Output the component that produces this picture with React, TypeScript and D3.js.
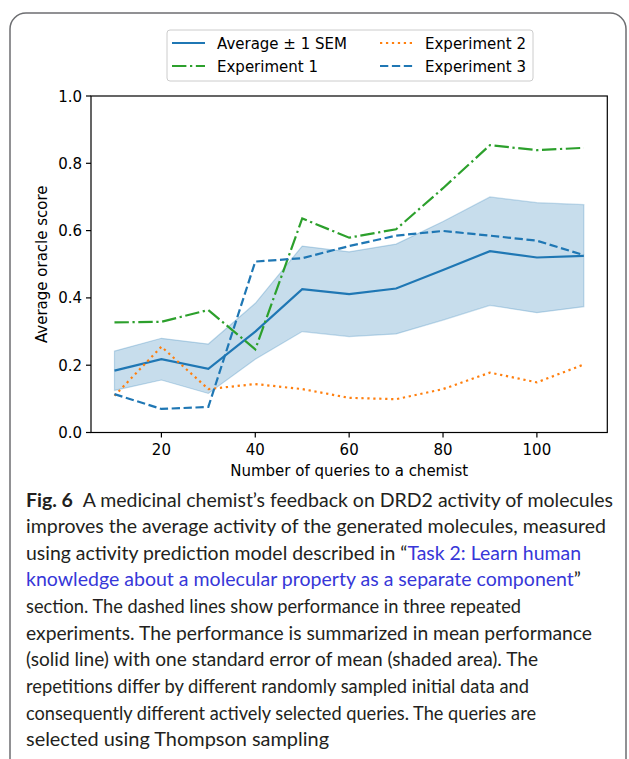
import React from "react";
import * as d3 from "d3";

const queries = [10, 20, 30, 40, 50, 60, 70, 80, 90, 100, 110];
const average = [0.184, 0.218, 0.189, 0.3, 0.426, 0.411, 0.428, 0.483, 0.539, 0.52, 0.525];
const semUpper = [0.242, 0.28, 0.263, 0.384, 0.554, 0.537, 0.56, 0.627, 0.7, 0.683, 0.677];
const semLower = [0.125, 0.156, 0.116, 0.218, 0.3, 0.285, 0.293, 0.334, 0.378, 0.356, 0.374];
const experiment1 = [0.327, 0.329, 0.364, 0.247, 0.636, 0.579, 0.604, 0.726, 0.854, 0.839, 0.846];
const experiment2 = [0.109, 0.255, 0.129, 0.144, 0.129, 0.103, 0.099, 0.129, 0.178, 0.149, 0.202];
const experiment3 = [0.114, 0.07, 0.076, 0.508, 0.518, 0.554, 0.585, 0.599, 0.585, 0.57, 0.527];
const xTicks = [20, 40, 60, 80, 100];
const yTicks = [0, 0.2, 0.4, 0.6, 0.8, 1.0];
const xLabel = "Number of queries to a chemist";
const yLabel = "Average oracle score";

const BLUE = "#1f77b4";
const ORANGE = "#ff7f0e";
const GREEN = "#2ca02c";

const legendItems = [
  { label: "Average \u00b1 1 SEM", color: BLUE, dash: "none", col: 0, row: 0 },
  { label: "Experiment 1", color: GREEN, dash: "14.4 3.6 2.25 3.6", col: 0, row: 1 },
  { label: "Experiment 2", color: ORANGE, dash: "2.25 3.7", col: 1, row: 0 },
  { label: "Experiment 3", color: BLUE, dash: "8.3 3.6", col: 1, row: 1 },
];

const LINK = "#3737d8";
const captionLines: { parts: { t: string; bold?: boolean; link?: boolean }[]; w: number }[] = [
  { parts: [{ t: "Fig. 6", bold: true }, { t: "\u2002A medicinal chemist\u2019s feedback on DRD2 activity of molecules" }], w: 587 },
  { parts: [{ t: "improves the average activity of the generated molecules, measured" }], w: 580 },
  { parts: [{ t: "using activity prediction model described in \u201c" }, { t: "Task 2: Learn human", link: true }], w: 555 },
  { parts: [{ t: "knowledge about a molecular property as a separate component", link: true }, { t: "\u201d" }], w: 555 },
  { parts: [{ t: "section. The dashed lines show performance in three repeated" }], w: 495 },
  { parts: [{ t: "experiments. The performance is summarized in mean performance" }], w: 566 },
  { parts: [{ t: "(solid line) with one standard error of mean (shaded area). The" }], w: 512 },
  { parts: [{ t: "repetitions differ by different randomly sampled initial data and" }], w: 503 },
  { parts: [{ t: "consequently different actively selected queries. The queries are" }], w: 510 },
  { parts: [{ t: "selected using Thompson sampling" }], w: 303 },
];

export default function App() {
  const W = 629, H = 759;
  const left = 91, right = 607.3, top = 96, bottom = 432.5;
  const x = d3.scaleLinear().domain([5, 115]).range([left, right]);
  const y = d3.scaleLinear().domain([0, 1]).range([bottom, top]);
  const line = (vals: number[]) =>
    d3.line<number>().x((_, i) => x(queries[i])).y((v) => y(v))(vals) || "";
  const area =
    d3
      .area<number>()
      .x((_, i) => x(queries[i]))
      .y0((_, i) => y(semLower[i]))
      .y1((v) => y(v))(semUpper) || "";
  const font = "DejaVu Sans, sans-serif";
  const lw = 2.2;
  const lg = { x: 167, y: 30, w: 366, h: 51 };
  const colX = [172, 380];
  const rowY = [43, 66];

  return (
    <svg
      width={W}
      height={H}
      style={{ position: "absolute", left: 0, top: 0, background: "#fff" }}
      xmlns="http://www.w3.org/2000/svg"
    >
      <rect x={0} y={0} width={W} height={H} fill="#fff" />
      <rect x={10} y={13} width={616} height={790} rx={16} ry={16} fill="none" stroke="#6d6e71" strokeWidth={1.5} />

      {/* plot */}
      <path d={area} fill={BLUE} fillOpacity={0.25} stroke={BLUE} strokeOpacity={0.25} strokeWidth={1.2} />
      <path d={line(average)} fill="none" stroke={BLUE} strokeWidth={lw} />
      <path d={line(experiment1)} fill="none" stroke={GREEN} strokeWidth={lw} strokeDasharray="14.4 3.6 2.25 3.6" />
      <path d={line(experiment2)} fill="none" stroke={ORANGE} strokeWidth={lw} strokeDasharray="2.25 3.7" />
      <path d={line(experiment3)} fill="none" stroke={BLUE} strokeWidth={lw} strokeDasharray="8.3 3.6" />

      <rect x={left} y={top} width={right - left} height={bottom - top} fill="none" stroke="#000" strokeWidth={1.2} />

      {xTicks.map((t) => (
        <g key={"x" + t}>
          <line x1={x(t)} x2={x(t)} y1={bottom} y2={bottom + 5} stroke="#000" strokeWidth={1.2} />
          <text x={x(t)} y={bottom + 22} textAnchor="middle" fontFamily={font} fontSize={15} fill="#000">
            {t}
          </text>
        </g>
      ))}
      {yTicks.map((t) => (
        <g key={"y" + t}>
          <line x1={left - 5} x2={left} y1={y(t)} y2={y(t)} stroke="#000" strokeWidth={1.2} />
          <text x={left - 9} y={y(t) + 5.5} textAnchor="end" fontFamily={font} fontSize={15} fill="#000">
            {t.toFixed(1)}
          </text>
        </g>
      ))}
      <text x={(left + right) / 2} y={476} textAnchor="middle" fontFamily={font} fontSize={15} fill="#000">
        {xLabel}
      </text>
      <text
        transform={`translate(47, ${(top + bottom) / 2}) rotate(-90)`}
        textAnchor="middle"
        fontFamily={font}
        fontSize={15}
        fill="#000"
      >
        {yLabel}
      </text>

      {/* legend */}
      <rect x={lg.x} y={lg.y} width={lg.w} height={lg.h} rx={3} fill="#fff" fillOpacity={0.8} stroke="#ccc" strokeWidth={1} />
      {legendItems.map((it) => (
        <g key={it.label}>
          <line
            x1={colX[it.col]}
            x2={colX[it.col] + 33}
            y1={rowY[it.row]}
            y2={rowY[it.row]}
            stroke={it.color}
            strokeWidth={lw}
            strokeDasharray={it.dash}
          />
          <text x={colX[it.col] + 45} y={rowY[it.row] + 5.5} fontFamily={font} fontSize={15} fill="#000">
            {it.label}
          </text>
        </g>
      ))}

      {/* caption */}
      {captionLines.map((ln, i) => (
        <text
          key={i}
          x={26}
          y={506.5 + i * 26.65}
          fontFamily="Lato, 'Open Sans', sans-serif"
          fontSize={19.5}
          fill="#231f20"
          textLength={ln.w}
          lengthAdjust="spacingAndGlyphs"
        >
          {ln.parts.map((p, j) => (
            <tspan key={j} fontWeight={p.bold ? 700 : 400} fill={p.link ? LINK : "#231f20"}>
              {p.t}
            </tspan>
          ))}
        </text>
      ))}
    </svg>
  );
}
